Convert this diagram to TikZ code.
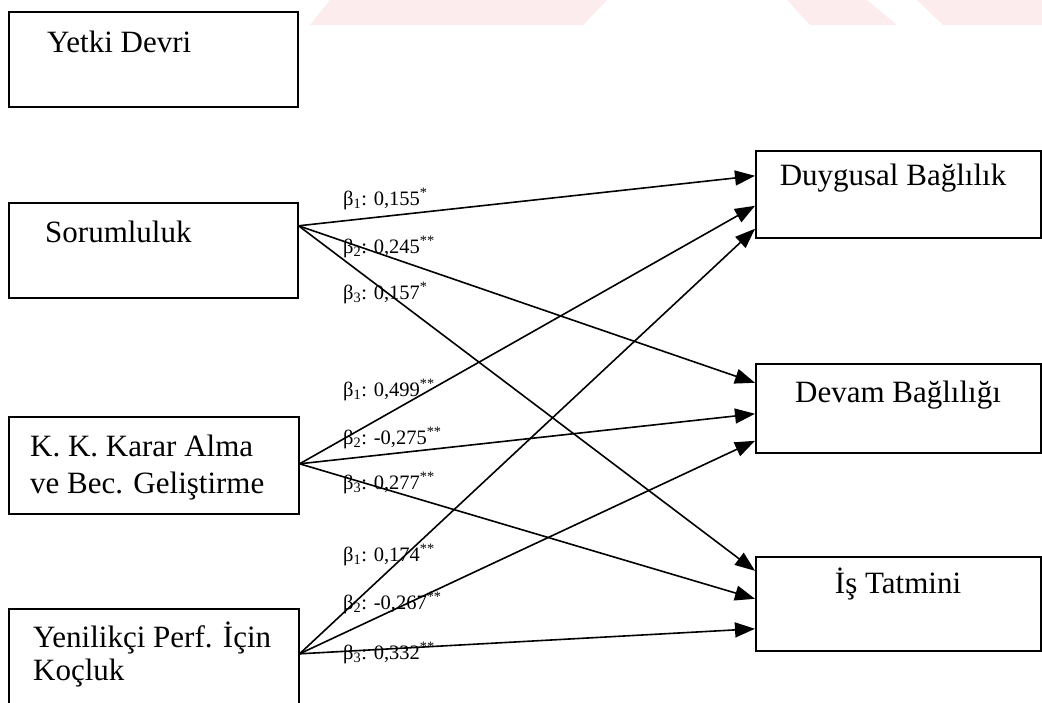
\documentclass[tikz,border=0pt]{standalone}
\usepackage{fontspec}
\setmainfont{Liberation Serif}
\usetikzlibrary{arrows.meta}
\definecolor{wm}{RGB}{252,236,238}
\begin{document}
\begin{tikzpicture}[x=1pt,y=-1pt,
  box/.style={draw, line width=1.6pt, anchor=north west, inner sep=0pt},
  arr/.style={line width=1.6pt, -{Triangle[length=20pt,width=15pt]}},
  lbl/.style={anchor=west, inner sep=0pt, font=\fontsize{20.5}{24}\selectfont},
  txt/.style={anchor=base west, inner sep=0pt, font=\fontsize{31}{37}\selectfont},
  ctxt/.style={anchor=base, inner sep=0pt, font=\fontsize{31}{37}\selectfont}]
\useasboundingbox (0,0) rectangle (1042,702);
\clip (0,0) rectangle (1042,702);
% faint watermark band at the top
\fill[wm] (330,0) -- (607,0) -- (583,25) -- (310,25) -- cycle;
\fill[wm] (787,0) -- (867,0) -- (897,25) -- (810,25) -- cycle;
\fill[wm] (917,0) -- (1042,0) -- (1042,25) -- (943,25) -- cycle;
% boxes
\node[box, minimum width=289pt, minimum height=95pt] (yd) at (8,11) {};
\node[box, minimum width=289pt, minimum height=95pt] (sor) at (8,202) {};
\node[box, minimum width=290pt, minimum height=97pt] (kk) at (8,416) {};
\node[box, minimum width=290pt, minimum height=130pt] (yen) at (8,608) {};
\node[box, minimum width=285pt, minimum height=87pt] (duy) at (755,150) {};
\node[box, minimum width=285pt, minimum height=89pt] (dev) at (755,363) {};
\node[box, minimum width=285pt, minimum height=94pt] (is) at (755,556) {};
% box texts
\node[txt] (tyd) at (47,52) {Yetki Devri};
\node[txt] (tsor) at (45,242) {Sorumluluk};
\node[txt] (tkk1) at (30,456) {K. K. Karar Alma};
\node[txt] (tkk2) at (30,493) {ve Bec. Geliştirme};
\node[txt] (tyen1) at (33,647) {Yenilikçi Perf. İçin};
\node[txt] (tyen2) at (33,680) {Koçluk};
\node[ctxt] (tduy) at (893,185) {Duygusal Bağlılık};
\node[ctxt] (tdev) at (898,402) {Devam Bağlılığı};
\node[ctxt] (tis) at (898,593) {İş Tatmini};
% connector end points
\coordinate (s0) at ([yshift=24.5pt]sor.east);
\coordinate (k0) at ([yshift=1.5pt]kk.east);
\coordinate (y0) at ([yshift=20pt]yen.east);
\coordinate (d1) at ([yshift=18.5pt]duy.west);
\coordinate (d2) at ([yshift=-11.5pt]duy.west);
\coordinate (d3) at ([yshift=-34.5pt]duy.west);
\coordinate (v1) at ([yshift=25.5pt]dev.west);
\coordinate (v2) at ([yshift=-5.5pt]dev.west);
\coordinate (v3) at ([yshift=-32.5pt]dev.west);
\coordinate (i1) at ([yshift=33pt]is.west);
\coordinate (i2) at ([yshift=5pt]is.west);
\coordinate (i3) at ([yshift=-25pt]is.west);
% connectors
\draw[arr] (s0) -- (d1);
\draw[arr] (s0) -- (v1);
\draw[arr] (s0) -- (i1);
\draw[arr] (k0) -- (d2);
\draw[arr] (k0) -- (v2);
\draw[arr] (k0) -- (i2);
\draw[arr] (y0) -- (d3);
\draw[arr] (y0) -- (v3);
\draw[arr] (y0) -- (i3);
% coefficient labels
\node[lbl] (l1) at (343,199) {β\textsubscript{1}: 0,155\textsuperscript{*}};
\node[lbl] (l2) at (343,247) {β\textsubscript{2}: 0,245\textsuperscript{**}};
\node[lbl] (l3) at (343,293) {β\textsubscript{3}: 0,157\textsuperscript{*}};
\node[lbl] (l4) at (343,390) {β\textsubscript{1}: 0,499\textsuperscript{**}};
\node[lbl] (l5) at (343,438) {β\textsubscript{2}: -0,275\textsuperscript{**}};
\node[lbl] (l6) at (343,483) {β\textsubscript{3}: 0,277\textsuperscript{**}};
\node[lbl] (l7) at (343,555) {β\textsubscript{1}: 0,174\textsuperscript{**}};
\node[lbl] (l8) at (343,603) {β\textsubscript{2}: -0,267\textsuperscript{**}};
\node[lbl] (l9) at (343,653) {β\textsubscript{3}: 0,332\textsuperscript{**}};
\end{tikzpicture}
\end{document}
